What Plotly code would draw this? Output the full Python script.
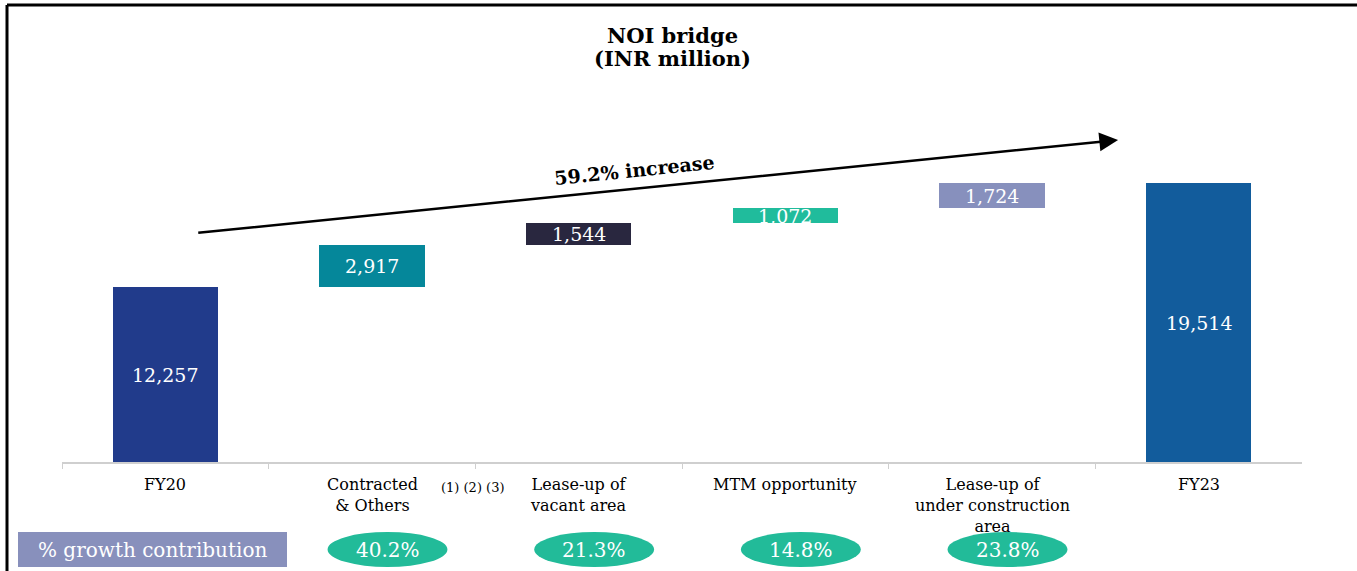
import plotly.graph_objects as go

# ---------------- data ----------------
categories = ["FY20", "Contracted & Others", "Lease-up of vacant area",
              "MTM opportunity", "Lease-up of under construction area", "FY23"]
label_lines = [["FY20"], ["Contracted", "& Others"], ["Lease-up of", "vacant area"],
               ["MTM opportunity"], ["Lease-up of", "under construction", "area"], ["FY23"]]
start_value = 12257
increments = [2917, 1544, 1072, 1724]
end_value = 19514
growth_contribution = ["40.2%", "21.3%", "14.8%", "23.8%"]
total_increase = "59.2% increase"
bar_colors = ["#213B8B", "#05879A", "#29273F", "#20BC9C", "#8790BD", "#125C9C"]

# ---------------- derived ----------------
values = [start_value] + increments + [end_value]
bases = [0]
run = start_value
for inc in increments:
    bases.append(run)
    run += inc
bases.append(0)

W, H = 1357, 571
L, R, T, B = 62, 55, 100, 109
pw, ph = W - L - R, H - T - B


def px(xp):
    return (xp - L) / pw


def py(yp):
    return (H - B - yp) / ph


units_per_px = 70.04
y_max = ph * units_per_px

SERIF = "DejaVu Serif"

fig = go.Figure()
fig.add_trace(go.Bar(
    x=list(range(len(categories))), y=values, base=bases,
    marker=dict(color=bar_colors, line=dict(width=0)),
    width=0.51, hovertext=categories, showlegend=False,
))

ann = []
# bar value labels
for i, (v, b) in enumerate(zip(values, bases)):
    ann.append(dict(x=i, y=b + v / 2, text=f"{v:,}", showarrow=False,
                    font=dict(family=SERIF, size=19, color="white"),
                    xanchor="center", yanchor="middle"))

# category labels
for i, lines in enumerate(label_lines):
    ann.append(dict(x=i, y=0, yref="paper", text="<br>".join(lines), showarrow=False,
                    font=dict(family=SERIF, size=16, color="black"), align="center",
                    xanchor="center", yanchor="top", yshift=-11))
ann.append(dict(x=1.49, y=0, yref="paper", text="(1) (2) (3)", showarrow=False,
                font=dict(family=SERIF, size=13, color="black"),
                xanchor="center", yanchor="middle", yshift=-25))

# arrow
ann.append(dict(x=4.61, y=22554, ax=0.152, ay=16040, xref="x", yref="y",
                axref="x", ayref="y", text="", showarrow=True,
                arrowhead=2, arrowsize=1.5, arrowwidth=2.5, arrowcolor="black"))
ann.append(dict(x=2.268, y=20450, text=f"<b>{total_increase}</b>", showarrow=False,
                textangle=-5.8, font=dict(family=SERIF, size=19, color="black"),
                xanchor="center", yanchor="middle"))

# title
ann.append(dict(x=px(672), y=py(35), xref="paper", yref="paper", text="<b>NOI bridge</b>",
                showarrow=False, font=dict(family=SERIF, size=21, color="black"),
                xanchor="center", yanchor="middle"))
ann.append(dict(x=px(672), y=py(59), xref="paper", yref="paper", text="<b>(INR million)</b>",
                showarrow=False, font=dict(family=SERIF, size=21, color="black"),
                xanchor="center", yanchor="middle"))

shapes = []
# growth contribution row
row_top, row_bot = py(532), py(567)
shapes.append(dict(type="rect", xref="paper", yref="paper", x0=px(18), x1=px(287),
                   y0=row_bot, y1=row_top, fillcolor="#8890BC", line=dict(width=0), layer="above"))
ann.append(dict(x=px(152), y=(row_top + row_bot) / 2, xref="paper", yref="paper",
                text="% growth contribution", showarrow=False,
                font=dict(family=SERIF, size=20, color="white"), xanchor="center", yanchor="middle"))
for k, g in enumerate(growth_contribution):
    cx = k + 1 + 0.075
    shapes.append(dict(type="circle", xref="x", yref="paper", x0=cx - 0.29, x1=cx + 0.29,
                       y0=row_bot, y1=row_top, fillcolor="#22BB99", line=dict(width=0), layer="above"))
    ann.append(dict(x=cx, y=(row_top + row_bot) / 2, yref="paper", text=g, showarrow=False,
                    font=dict(family=SERIF, size=20, color="white"), xanchor="center", yanchor="middle"))

# frame lines (top and left)
shapes.append(dict(type="line", xref="paper", yref="paper", x0=px(7), x1=px(1357), y0=py(5), y1=py(5),
                   line=dict(color="black", width=3), layer="above"))
shapes.append(dict(type="line", xref="paper", yref="paper", x0=px(7), x1=px(7), y0=py(5), y1=py(571),
                   line=dict(color="black", width=3), layer="above"))

fig.update_layout(
    width=W, height=H, margin=dict(l=L, r=R, t=T, b=B),
    paper_bgcolor="white", plot_bgcolor="white",
    annotations=ann, shapes=shapes, bargap=0,
    xaxis=dict(range=[-0.5, len(categories) - 0.5], showgrid=False, zeroline=False,
               showline=True, linecolor="#CFCFCF", linewidth=1.5,
               tickvals=[i - 0.5 for i in range(len(categories))], ticks="outside",
               ticklen=5, tickcolor="#CFCFCF", showticklabels=False, fixedrange=True),
    yaxis=dict(range=[0, y_max], visible=False, fixedrange=True),
)

fig.write_html("out.html", config={"displayModeBar": False},
               post_script="document.body.style.margin='0px';document.body.style.overflow='hidden';")
